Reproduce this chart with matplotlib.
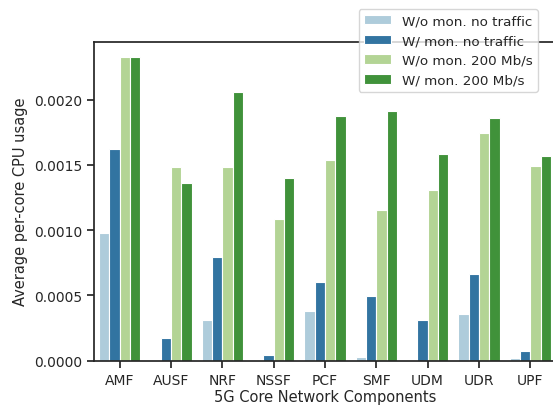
import numpy as np
import matplotlib
matplotlib.use("Agg")
import matplotlib.pyplot as plt
import seaborn as sns

categories = ["AMF", "AUSF", "NRF", "NSSF", "PCF", "SMF", "UDM", "UDR", "UPF"]
series_names = ["W/o mon. no traffic", "W/ mon. no traffic",
                "W/o mon. 200 Mb/s", "W/ mon. 200 Mb/s"]
wo_mon_no_traffic = [0.000979, 0.0, 0.000312, 0.0, 0.000383, 0.00003, 0.0, 0.000356, 0.00002]
w_mon_no_traffic = [0.001623, 0.000172, 0.000795, 0.000044, 0.000606, 0.000496, 0.000312, 0.000665, 0.000074]
wo_mon_200 = [0.002327, 0.001483, 0.001483, 0.001087, 0.001539, 0.001158, 0.001309, 0.001744, 0.001493]
w_mon_200 = [0.002327, 0.001363, 0.002055, 0.001401, 0.001874, 0.001913, 0.001583, 0.001863, 0.001572]
series = [wo_mon_no_traffic, w_mon_no_traffic, wo_mon_200, w_mon_200]

sns.set_theme(style="ticks")
plt.rcParams['font.family'] = ['DejaVu Sans']
colors = sns.color_palette("Paired", 4, desat=0.75)

fig = plt.figure(figsize=(5.53, 4.06), dpi=100)
ax = fig.add_axes([94 / 553, 44.3 / 406, (556 - 94) / 553, (361.7 - 42.7) / 406])

x = np.arange(len(categories))
width = 0.2
for i, (name, vals) in enumerate(zip(series_names, series)):
    ax.bar(x + (i - 1.5) * width, vals, width, color=colors[i], label=name,
           edgecolor="white", linewidth=0.8)

ax.set_xlim(-0.5, len(categories) - 0.5)
ax.set_ylim(0, 0.002444)
ax.set_xticks(x)
ax.set_xticklabels(categories, fontsize=10)
ax.set_yticks([0, 0.0005, 0.001, 0.0015, 0.002])
ax.set_yticklabels(["0.0000", "0.0005", "0.0010", "0.0015", "0.0020"], fontsize=10)
ax.tick_params(length=5)
ax.set_xlabel("5G Core Network Components", fontsize=10.5, labelpad=2)
ax.set_ylabel("Average per-core CPU usage", fontsize=10.5)
ax.spines['right'].set_visible(False)

ax.legend(loc="upper right", bbox_to_anchor=(538 / 553, 1 - 10 / 406),
          bbox_transform=fig.transFigure, borderaxespad=0,
          fontsize=9.7, handlelength=2.0)

fig.savefig("out.png", dpi=100)
